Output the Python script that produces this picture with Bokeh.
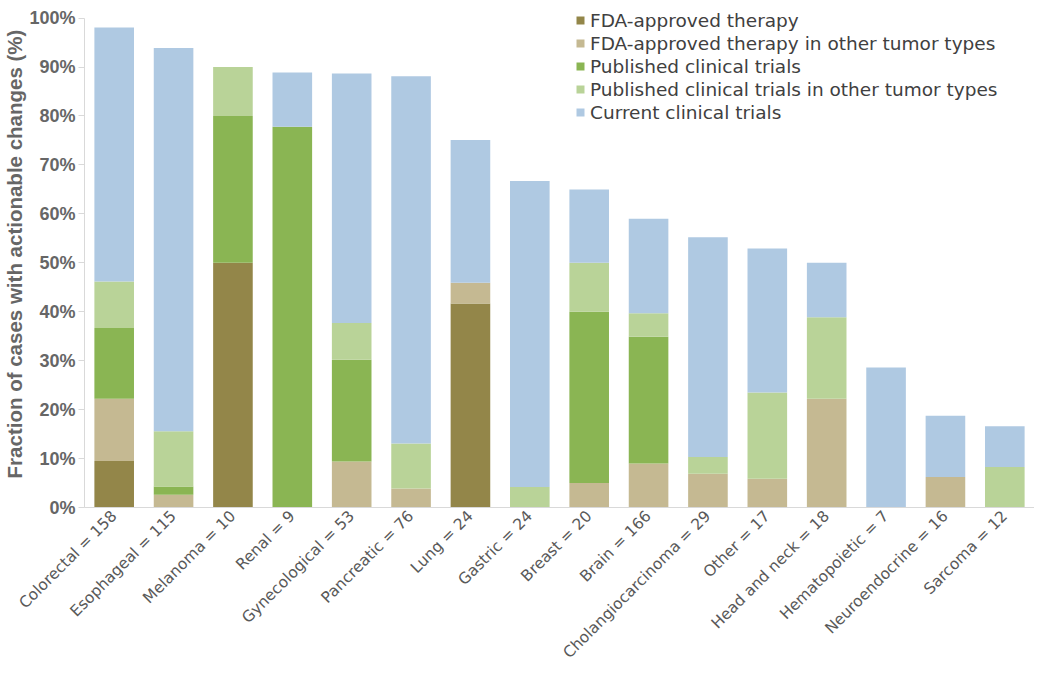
import math
from bokeh.plotting import figure
from bokeh.models import FactorRange, Range1d, FixedTicker, PrintfTickFormatter, Legend
from bokeh.embed import file_html
from bokeh.resources import INLINE

categories = ["Colorectal = 158", "Esophageal = 115", "Melanoma = 10", "Renal = 9",
              "Gynecological = 53", "Pancreatic = 76", "Lung = 24", "Gastric = 24",
              "Breast = 20", "Brain = 166", "Cholangiocarcinoma = 29", "Other = 17",
              "Head and neck = 18", "Hematopoietic = 7", "Neuroendocrine = 16", "Sarcoma = 12"]

fda_approved = [9.5, 0, 50, 0, 0, 0, 41.7, 0, 0, 0, 0, 0, 0, 0, 0, 0]
fda_other_tumor = [12.7, 2.6, 0, 0, 9.4, 3.9, 4.2, 0, 5, 9.0, 6.9, 5.9, 22.2, 0, 6.25, 0]
published_trials = [14.5, 1.7, 30, 77.8, 20.8, 0, 0, 0, 35, 25.9, 0, 0, 0, 0, 0, 0]
published_other_tumor = [9.5, 11.3, 10, 0, 7.5, 9.2, 0, 4.2, 10, 4.8, 3.4, 17.6, 16.7, 0, 0, 8.3]
current_trials = [51.9, 78.3, 0, 11.1, 51.0, 75.0, 29.2, 62.5, 15, 19.3, 44.9, 29.4, 11.1, 28.6, 12.5, 8.3]

series_names = ["FDA-approved therapy", "FDA-approved therapy in other tumor types",
                "Published clinical trials", "Published clinical trials in other tumor types",
                "Current clinical trials"]
colors = ["#938649", "#c5b992", "#8ab553", "#b9d398", "#afc9e2"]
y_ticks = list(range(0, 101, 10))

keys = ["fda", "fda_other", "pub", "pub_other", "current"]
data = dict(cat=categories, fda=fda_approved, fda_other=fda_other_tumor,
            pub=published_trials, pub_other=published_other_tumor, current=current_trials)

W, H = 1034, 677
p = figure(width=W, height=H, output_backend="svg", toolbar_location=None,
           x_range=FactorRange(factors=categories, range_padding=0),
           y_range=Range1d(0, 103.6),
           min_border_left=79, min_border_right=0, min_border_top=0, min_border_bottom=170)

renderers = p.vbar_stack(keys, x="cat", width=0.667, source=data, color=colors, line_color=None)

p.xgrid.visible = False
p.ygrid.visible = False
p.outline_line_color = None
p.background_fill_color = "white"
p.border_fill_color = "white"

# y axis
ya = p.yaxis[0]
ya.ticker = FixedTicker(ticks=y_ticks)
ya.formatter = PrintfTickFormatter(format="%d%%")
ya.bounds = (0, 100)
ya.axis_line_color = "#d9d9d9"
ya.major_tick_line_color = "#d9d9d9"
ya.major_tick_out = 6
ya.major_tick_in = 0
ya.minor_tick_line_color = None
ya.major_label_text_font = "Liberation Sans"
ya.major_label_text_font_style = "bold"
ya.major_label_text_font_size = "18px"
ya.major_label_text_color = "#666666"
ya.major_label_standoff = 3
ya.axis_label = "Fraction of cases with actionable changes (%)"
ya.axis_label_text_font = "Liberation Sans"
ya.axis_label_text_font_style = "bold"
ya.axis_label_text_font_size = "20.5px"
ya.axis_label_text_color = "#666666"
ya.axis_label_standoff = 0

# x axis
xa = p.xaxis[0]
xa.major_label_orientation = math.pi / 4
xa.major_label_text_font = "DejaVu Sans"
xa.major_label_text_font_size = "15.5px"
xa.major_label_text_color = "#595959"
xa.axis_line_color = "#d9d9d9"
xa.major_tick_line_color = None
xa.minor_tick_line_color = None
xa.major_tick_out = 0
xa.major_tick_in = 0
xa.major_label_standoff = 6

# legend
items = [(name, [r]) for name, r in zip(series_names, renderers)]
legend = Legend(items=items, location=(491, 384), orientation="vertical",
                padding=0, margin=0, spacing=1, border_line_color=None,
                background_fill_alpha=0, glyph_width=10, glyph_height=10,
                label_standoff=5, label_text_font="DejaVu Sans",
                label_text_font_size="18.5px", label_text_color="#404040",
                label_height=22)
p.add_layout(legend, "center")

open("out.html", "w").write(file_html(p, INLINE))
